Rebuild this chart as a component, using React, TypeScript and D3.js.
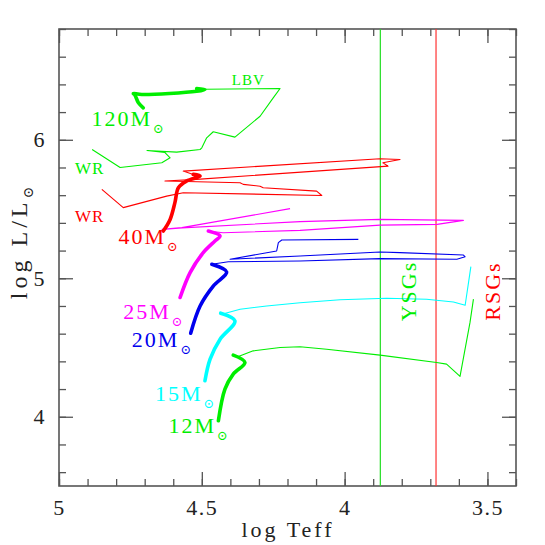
import React, { useEffect, useRef } from 'react';
import * as d3 from 'd3';

type Pt = [number, number];

// [log Teff, log L/Lsun]
const TRACK_12_MS: Pt[] = [[4.442, 3.971], [4.419, 4.2], [4.39, 4.308], [4.349, 4.392], [4.39, 4.445]];
const TRACK_12_POST: Pt[] = [
  [4.39, 4.445], [4.372, 4.435], [4.32, 4.476], [4.226, 4.5], [4.156, 4.505], [4.063, 4.488],
  [3.876, 4.445], [3.678, 4.392], [3.643, 4.38], [3.596, 4.291], [3.561, 4.681], [3.549, 4.849],
];
const TRACK_15_MS: Pt[] = [[4.489, 4.26], [4.471, 4.416], [4.436, 4.56], [4.384, 4.692], [4.434, 4.748]];
const TRACK_15_POST: Pt[] = [
  [4.434, 4.748], [4.43, 4.74], [4.366, 4.776], [4.273, 4.8], [4.156, 4.823], [4.016, 4.845],
  [3.853, 4.856], [3.713, 4.849], [3.619, 4.829], [3.578, 4.805], [3.558, 5.084],
];
const TRACK_20_MS: Pt[] = [[4.539, 4.603], [4.506, 4.8], [4.46, 4.944], [4.413, 5.045], [4.465, 5.101]];
const TRACK_20_POST: Pt[] = [
  [4.465, 5.101], [4.407, 5.119], [4.156, 5.125], [3.876, 5.142], [3.607, 5.137], [3.578, 5.155],
  [3.584, 5.168], [3.806, 5.185], [3.876, 5.19], [4.156, 5.161], [4.401, 5.137], [4.238, 5.197],
  [4.232, 5.257], [4.22, 5.276], [3.952, 5.281],
];
const TRACK_25_MS: Pt[] = [[4.576, 4.861], [4.541, 5.041], [4.495, 5.185], [4.454, 5.269], [4.436, 5.305], [4.477, 5.341]];
const TRACK_25_POST: Pt[] = [
  [4.477, 5.341], [4.426, 5.329], [4.156, 5.346], [3.876, 5.384], [3.676, 5.389], [3.584, 5.418],
  [3.876, 5.425], [4.156, 5.409], [4.569, 5.364], [4.639, 5.353], [4.57, 5.366], [4.191, 5.503],
];
const TRACK_40_MS: Pt[] = [[4.635, 5.341], [4.611, 5.425], [4.594, 5.548], [4.582, 5.654], [4.553, 5.702], [4.506, 5.738], [4.53, 5.75]];
const TRACK_40_POST: Pt[] = [
  [4.53, 5.75], [4.565, 5.774], [3.876, 5.863], [3.806, 5.858], [3.866, 5.834], [3.848, 5.81],
  [4.518, 5.714], [4.629, 5.702], [4.366, 5.69], [4.355, 5.678], [4.296, 5.665], [4.285, 5.654],
  [4.098, 5.629], [4.08, 5.598], [4.565, 5.618], [4.623, 5.593], [4.775, 5.51], [4.85, 5.642],
];
const TRACK_120_MS: Pt[] = [[4.705, 6.231], [4.722, 6.267], [4.734, 6.322], [4.74, 6.334], [4.71, 6.327], [4.518, 6.35], [4.489, 6.363], [4.518, 6.37]];
const TRACK_120_POST: Pt[] = [
  [4.489, 6.365], [4.226, 6.37], [4.25, 6.303], [4.296, 6.17], [4.384, 6.019], [4.46, 6.058],
  [4.483, 6.014], [4.5, 5.942], [4.506, 5.93], [4.588, 5.911], [4.692, 5.923], [4.629, 5.908],
  [4.611, 5.87], [4.64, 5.834], [4.786, 5.8], [4.884, 5.93],
];

const YSG_TEFF = 3.875;
const RSG_TEFF = 3.68;

const MASS_LABELS = ['12M', '15M', '20M', '25M', '40M', '120M'];
const X_MAJOR = [5, 4.5, 4, 3.5];
const Y_MAJOR = [4, 5, 6];

const W = 545;
const H = 545;
const FONT = '"Liberation Serif", "DejaVu Serif", serif';

const App = () => {
  const svgRef = useRef<SVGSVGElement>(null);

  useEffect(() => {
    const svg = d3.select(svgRef.current);
    svg.selectAll('*').remove();

    const x = d3.scaleLinear().domain([5, 3.4]).range([59, 516]);
    const y = d3.scaleLinear().domain([3.5, 6.8]).range([486, 29]);

    const xMinor = d3.range(34, 51).map(d => d / 10);
    const yMinor = d3.range(18, 35).map(d => d / 5);

    const tickCol = '#555';

    // minor + major ticks on all four sides, pointing in
    const addAxis = (axis: any, tf: string, vals: number[], size: number, labels: boolean) => {
      const g = svg.append('g').attr('transform', tf).call(
        axis.tickValues(vals).tickSizeInner(-size).tickSizeOuter(0).tickPadding(13)
          .tickFormat(labels ? d3.format('') : () => '')
      );
      g.select('.domain').remove();
      g.selectAll('.tick line').attr('stroke', tickCol).attr('stroke-width', 1.3);
      g.selectAll('.tick text').attr('fill', '#222').style('font-family', FONT).style('font-size', '22px').attr('letter-spacing', 1.5);
      return g;
    };
    addAxis(d3.axisBottom(x), 'translate(0,486)', xMinor, 7, false);
    addAxis(d3.axisBottom(x), 'translate(0,486)', X_MAJOR, 14, true);
    addAxis(d3.axisTop(x), 'translate(0,29)', xMinor, 7, false);
    addAxis(d3.axisTop(x), 'translate(0,29)', X_MAJOR, 14, false);
    addAxis(d3.axisLeft(y), 'translate(59,0)', yMinor, 7, false);
    addAxis(d3.axisLeft(y), 'translate(59,0)', Y_MAJOR, 14, true);
    addAxis(d3.axisRight(y), 'translate(516,0)', yMinor, 7, false);
    addAxis(d3.axisRight(y), 'translate(516,0)', Y_MAJOR, 14, false);

    svg.append('rect')
      .attr('x', 59).attr('y', 29).attr('width', 457).attr('height', 457)
      .attr('fill', 'none').attr('stroke', tickCol).attr('stroke-width', 1.6);

    // YSG / RSG boundaries
    svg.append('line').attr('x1', x(YSG_TEFF)).attr('x2', x(YSG_TEFF)).attr('y1', 29).attr('y2', 486)
      .attr('stroke', '#22dd22').attr('stroke-width', 1.2);
    svg.append('line').attr('x1', x(RSG_TEFF)).attr('x2', x(RSG_TEFF)).attr('y1', 29).attr('y2', 486)
      .attr('stroke', '#ff3333').attr('stroke-width', 1.2);

    const tracks = [
      { ms: TRACK_12_MS, post: TRACK_12_POST, color: '#00ee00' },
      { ms: TRACK_15_MS, post: TRACK_15_POST, color: '#00ffff' },
      { ms: TRACK_20_MS, post: TRACK_20_POST, color: '#0000ee' },
      { ms: TRACK_25_MS, post: TRACK_25_POST, color: '#ff00ff' },
      { ms: TRACK_40_MS, post: TRACK_40_POST, color: '#ff0000' },
      { ms: TRACK_120_MS, post: TRACK_120_POST, color: '#00ee00' },
    ];

    const thin = d3.line<Pt>().x(d => x(d[0])).y(d => y(d[1]));
    const thick = d3.line<Pt>().x(d => x(d[0])).y(d => y(d[1])).curve(d3.curveCatmullRom.alpha(0.5));

    tracks.forEach(t => {
      svg.append('path').datum(t.post).attr('d', thin)
        .attr('fill', 'none').attr('stroke', t.color).attr('stroke-width', 1.1).attr('stroke-linejoin', 'round');
      svg.append('path').datum(t.ms).attr('d', thick)
        .attr('fill', 'none').attr('stroke', t.color).attr('stroke-width', 3.6)
        .attr('stroke-linejoin', 'round').attr('stroke-linecap', 'round');
    });

    // mass labels [logTeff, logL] of text start
    const labelPos: Pt[] = [[4.617, 3.882], [4.664, 4.113], [4.745, 4.505], [4.775, 4.709], [4.792, 5.25], [4.886, 6.103]];
    MASS_LABELS.forEach((lab, i) => {
      const txt = svg.append('text')
        .attr('x', x(labelPos[i][0])).attr('y', y(labelPos[i][1]))
        .attr('fill', tracks[i].color)
        .style('font-family', FONT).style('font-size', '22px').attr('letter-spacing', 2);
      txt.append('tspan').text(lab);
      txt.append('tspan').attr('dy', 7).attr('dx', 1).style('font-size', '13px').attr('letter-spacing', 0).text('⊙');
    });

    const note = (s: string, px: Pt, col: string, size: number) =>
      svg.append('text').attr('x', x(px[0])).attr('y', y(px[1])).attr('fill', col)
        .style('font-family', FONT).style('font-size', size + 'px').attr('letter-spacing', 1).text(s);
    note('LBV', [4.395, 6.399], '#00ee00', 15);
    note('WR', [4.944, 5.75], '#00ee00', 17);
    note('WR', [4.944, 5.404], '#ff0000', 17);

    const vlab = (s: string, px: number, col: string) =>
      svg.append('text').attr('transform', `translate(${px},291) rotate(-90)`)
        .attr('text-anchor', 'middle').attr('fill', col)
        .style('font-family', FONT).style('font-size', '22px').attr('letter-spacing', 2).text(s);
    vlab('YSGs', 416, '#00ee00');
    vlab('RSGs', 500, '#ff0000');

    // axis titles
    svg.append('text').attr('x', 288).attr('y', 537).attr('text-anchor', 'middle')
      .attr('fill', '#222').style('font-family', FONT).style('font-size', '22px').attr('letter-spacing', 3)
      .text('log Teff');
    const yl = svg.append('text').attr('transform', 'translate(27,243) rotate(-90)').attr('text-anchor', 'middle')
      .attr('fill', '#222').style('font-family', FONT).style('font-size', '24px').attr('letter-spacing', 4);
    yl.append('tspan').text('log L/L');
    yl.append('tspan').attr('dy', 6).style('font-size', '14px').attr('letter-spacing', 0).text('⊙');
  }, []);

  return (
    <svg ref={svgRef} width={W} height={H} style={{ position: 'absolute', left: 0, top: 0, background: '#fff' }} />
  );
};

export default App;
